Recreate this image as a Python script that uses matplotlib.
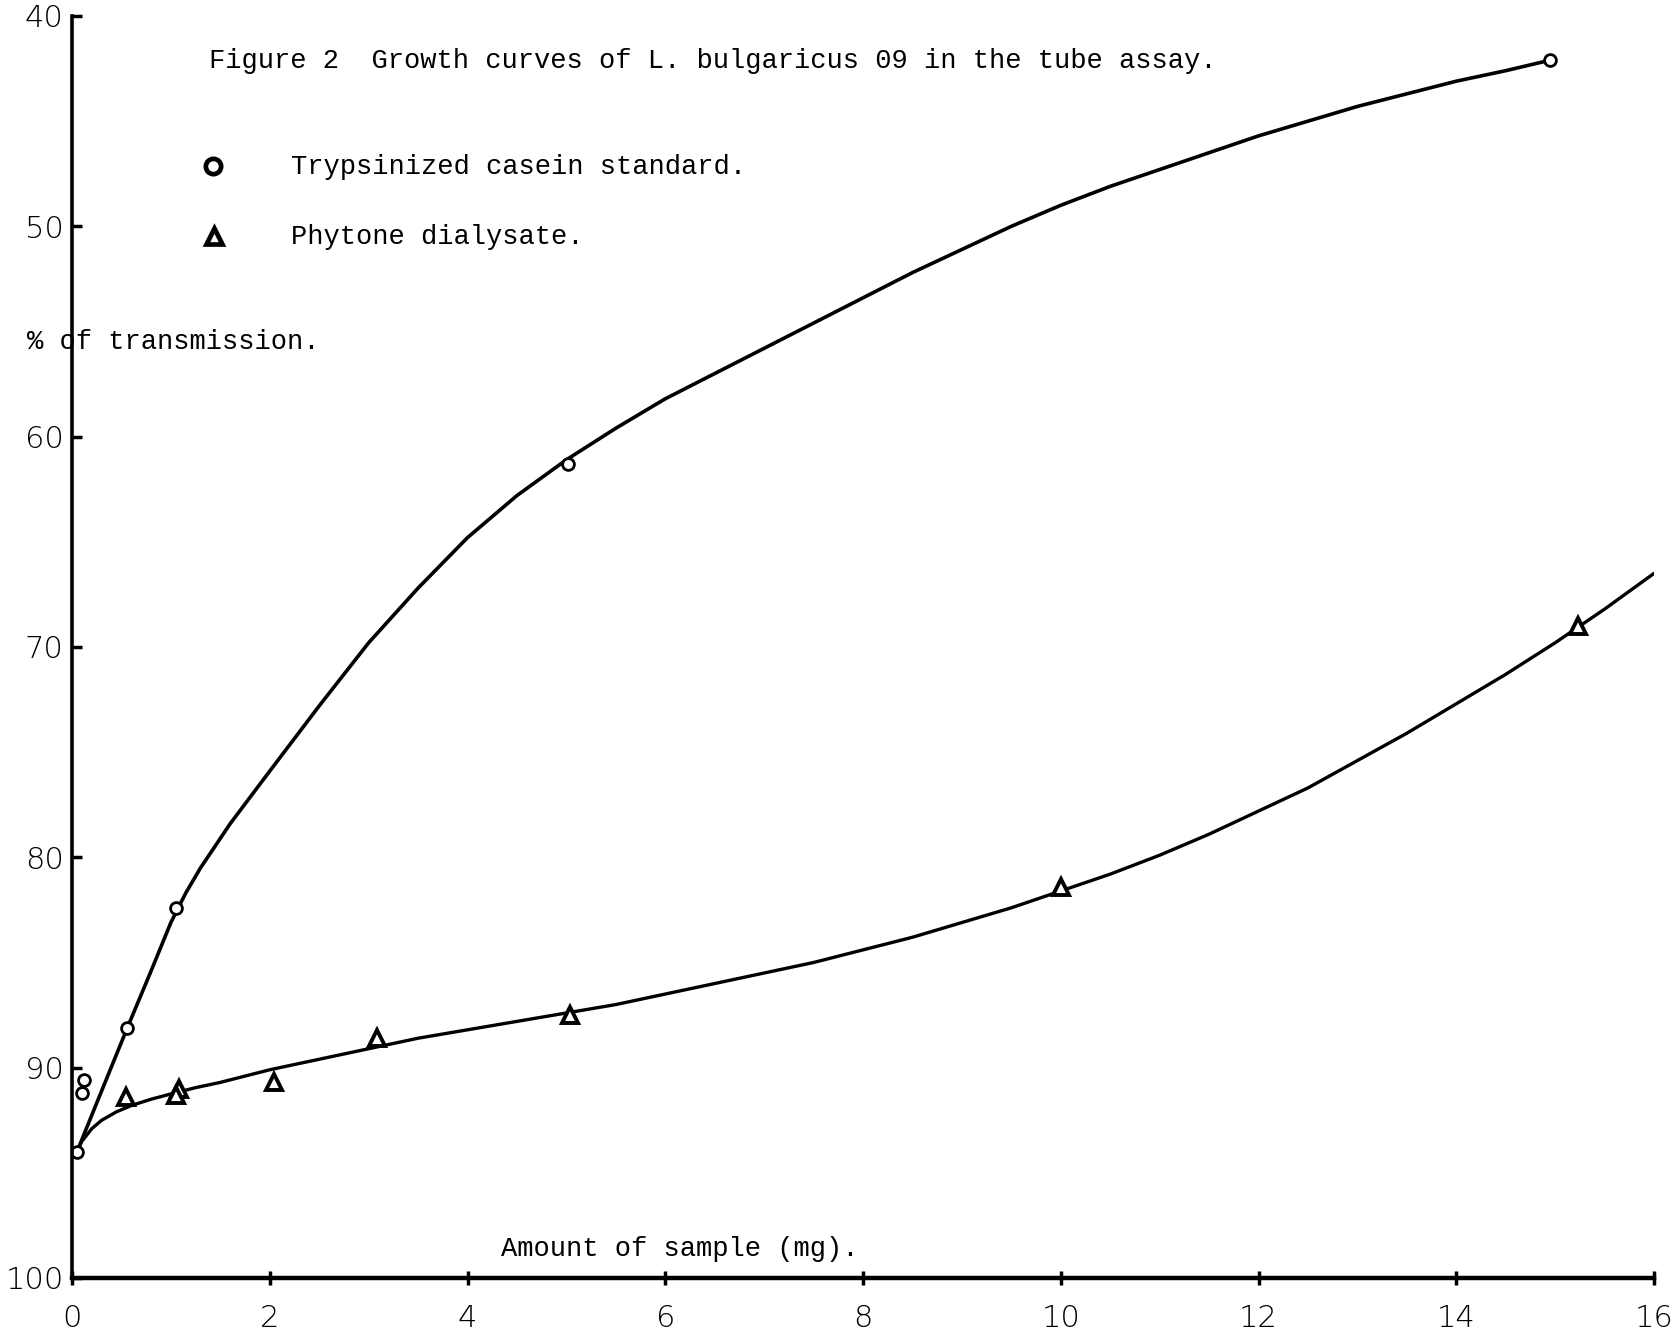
import matplotlib
matplotlib.use("Agg")
import matplotlib.pyplot as plt

# ---- data ----
casein_x = [0.05, 0.12, 0.10, 0.56, 1.05, 5.02, 14.95]
casein_y = [94.0, 90.6, 91.2, 88.1, 82.4, 61.3, 42.1]

phytone_x = [0.55, 1.08, 1.05, 2.04, 3.08, 5.04, 10.0, 15.23]
phytone_y = [91.4, 91.0, 91.3, 90.7, 88.6, 87.5, 81.4, 69.0]

casein_curve_x = [0.05, 0.3, 0.56, 0.8, 1.0, 1.15, 1.3, 1.6, 2.0, 2.5, 3.0, 3.5, 4.0, 4.5,
                  5.0, 5.5, 6.0, 6.5, 7.0, 7.5, 8.0, 8.5, 9.0, 9.5, 10.0, 10.5, 11.0,
                  11.5, 12.0, 12.5, 13.0, 13.5, 14.0, 14.5, 14.95]
casein_curve_y = [94.0, 91.1, 88.1, 85.4, 83.1, 81.7, 80.5, 78.4, 75.9, 72.8, 69.8, 67.2, 64.8,
                  62.8, 61.1, 59.6, 58.2, 57.0, 55.8, 54.6, 53.4, 52.2, 51.1, 50.0, 49.0, 48.1,
                  47.3, 46.5, 45.7, 45.0, 44.3, 43.7, 43.1, 42.6, 42.1]

phytone_curve_x = [0.05, 0.1, 0.2, 0.3, 0.45, 0.6, 0.8, 1.0, 1.25, 1.5, 2.0, 2.5, 3.0, 3.5,
                   4.0, 4.5, 5.0, 5.5, 6.0, 6.5, 7.0, 7.5, 8.0, 8.5, 9.0, 9.5, 10.0, 10.5,
                   11.0, 11.5, 12.0, 12.5, 13.0, 13.5, 14.0, 14.5, 15.0, 15.5, 16.0]
phytone_curve_y = [94.0, 93.5, 92.9, 92.5, 92.1, 91.8, 91.5, 91.25, 90.95, 90.7, 90.1, 89.6,
                   89.1, 88.6, 88.2, 87.8, 87.4, 87.0, 86.5, 86.0, 85.5, 85.0, 84.4, 83.8,
                   83.1, 82.4, 81.6, 80.8, 79.9, 78.9, 77.8, 76.7, 75.4, 74.1, 72.7, 71.3,
                   69.8, 68.2, 66.5]

x_ticks = [0, 2, 4, 6, 8, 10, 12, 14, 16]
x_labels = ["0", "2", "4", "6", "8", "10", "12", "14", "16"]
y_ticks = [40, 50, 60, 70, 80, 90, 100]
y_labels = ["40", "50", "60", "70", "80", "90", "100"]

title = "Figure 2  Growth curves of L. bulgaricus 09 in the tube assay."
legend_labels = ["Trypsinized casein standard.", "Phytone dialysate."]
ylabel = "% of transmission."
xlabel = "Amount of sample (mg)."

W, H = 1673, 1334
fig = plt.figure(figsize=(W / 100, H / 100), dpi=100)
ax = fig.add_axes([72 / W, 1 - 1278 / H, 1582 / W, 1262 / H])

mono = ["Liberation Mono", "DejaVu Sans Mono"]
tickfont = ["DejaVu Sans"]

ax.plot(casein_curve_x, casein_curve_y, color="black", lw=2.6,
        solid_capstyle="round", solid_joinstyle="round")
ax.plot(phytone_curve_x, phytone_curve_y, color="black", lw=2.4,
        solid_capstyle="round", solid_joinstyle="round")

ax.plot(casein_x, casein_y, linestyle="none", marker="o", ms=8.5, mfc="white",
        mec="black", mew=2)
ax.plot(phytone_x, phytone_y, linestyle="none", marker="^", ms=11, mfc="white",
        mec="black", mew=2.8)

ax.set_xlim(0, 16)
ax.set_ylim(100, 40)
for s in ["top", "right"]:
    ax.spines[s].set_visible(False)
ax.spines["left"].set_linewidth(2.6)
ax.spines["bottom"].set_linewidth(3.2)

ax.set_xticks(x_ticks)
ax.set_xticklabels(x_labels, family=tickfont, fontsize=22, fontweight="light")
ax.set_yticks(y_ticks)
ax.set_yticklabels(y_labels, family=tickfont, fontsize=22, fontweight="light")
ax.tick_params(axis="x", direction="inout", length=10, width=2.5, pad=14)
ax.tick_params(axis="y", direction="in", length=7, width=2.5, pad=6)

fig.text(209 / W, 1 - 61 / H, title, family=mono, fontsize=19.5, va="center", ha="left")
fig.lines.append(plt.Line2D([213 / W], [1 - 166 / H], transform=fig.transFigure,
                            marker="o", ms=11, mfc="white", mec="black", mew=3.4))
fig.text(291 / W, 1 - 167 / H, legend_labels[0], family=mono, fontsize=19.5, va="center", ha="left")
fig.lines.append(plt.Line2D([214 / W], [1 - 236 / H], transform=fig.transFigure,
                            marker="^", ms=12, mfc="white", mec="black", mew=3.4))
fig.text(291 / W, 1 - 237 / H, legend_labels[1], family=mono, fontsize=19.5, va="center", ha="left")

fig.text(27 / W, 1 - 342 / H, ylabel, family=mono, fontsize=19.5, va="center", ha="left")
fig.text(501 / W, 1 - 1249 / H, xlabel, family=mono, fontsize=19.5, va="center", ha="left")

fig.savefig("out.png", dpi=100, facecolor="white")
